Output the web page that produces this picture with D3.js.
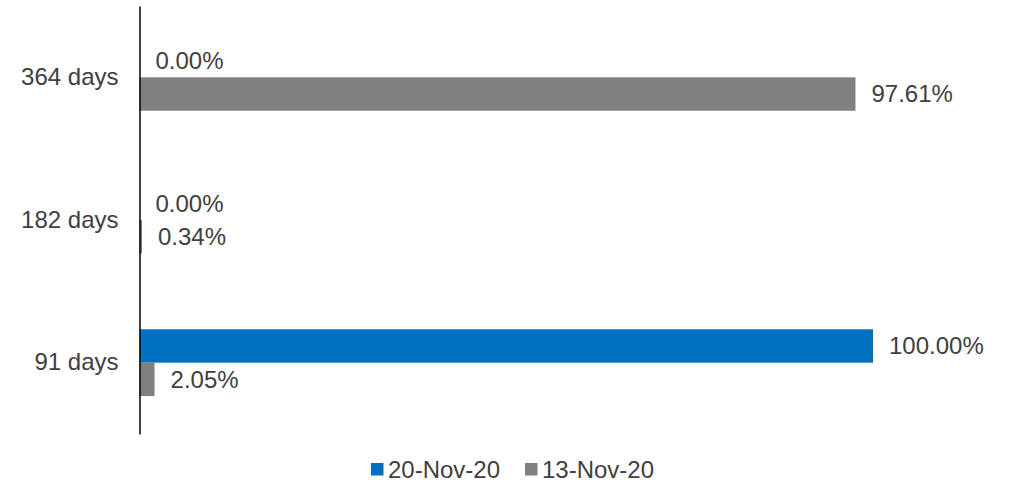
<!DOCTYPE html>
<html>
<head>
<meta charset="utf-8">
<script src="https://cdn.jsdelivr.net/npm/d3@7"></script>
<style>
  html, body { margin: 0; padding: 0; background: #fff; }
  svg { display: block; font-family: "Liberation Sans", Arial, sans-serif; }
</style>
</head>
<body>
<svg id="chart" width="1009" height="482"></svg>
<script>
// Tenors (top to bottom) and the two auction dates
const categories = ["364 days", "182 days", "91 days"];
const seriesNames = ["20-Nov-20", "13-Nov-20"];
// Share of accepted bids by tenor, in percent
const nov20Values = [0.00, 0.00, 100.00];
const nov13Values = [97.61, 0.34, 2.05];
const seriesColors = ["#0070C0", "#808080"];

const seriesValues = [nov20Values, nov13Values];
const rows = categories.map((c, i) => ({
  cat: c,
  vals: seriesNames.map((s, j) => ({ series: s, idx: j, value: seriesValues[j][i] }))
}));

const svg = d3.select("#chart");
const textColor = "#404040";
const fontSize = 24;

const x = d3.scaleLinear().domain([0, 100]).range([139.5, 873]);
const y0 = d3.scaleBand().domain(categories).range([6, 434]).paddingInner(0).paddingOuter(0);
const barH = 33.4;
const step = y0.step();
const y1 = d3.scaleBand().domain(seriesNames)
  .range([(step - 2 * barH) / 2, (step + 2 * barH) / 2]).padding(0);

const groups = svg.selectAll("g.cat").data(rows).join("g")
  .attr("class", "cat")
  .attr("transform", d => `translate(0,${y0(d.cat)})`);

groups.selectAll("rect").data(d => d.vals).join("rect")
  .attr("x", x(0))
  .attr("y", d => y1(d.series))
  .attr("height", y1.bandwidth())
  .attr("width", d => x(d.value) - x(0))
  .attr("fill", d => seriesColors[d.idx]);

groups.selectAll("text.val").data(d => d.vals).join("text")
  .attr("class", "val")
  .attr("x", d => x(d.value) + 16)
  .attr("y", d => y1(d.series) + y1.bandwidth() / 2)
  .attr("dy", "0.35em")
  .attr("fill", textColor)
  .attr("font-size", fontSize)
  .text(d => d.value.toFixed(2) + "%");

// Category axis
const yAxis = d3.axisLeft(y0).tickSize(0).tickPadding(21);
const ax = svg.append("g").attr("transform", `translate(${x(0)},0)`).call(yAxis);
ax.select(".domain").attr("stroke", "#000").attr("stroke-width", 1.5);
ax.selectAll("text").attr("font-size", fontSize).attr("fill", textColor)
  .attr("font-family", "Liberation Sans, Arial, sans-serif");

// Legend
const legend = svg.append("g");
const items = [
  { name: seriesNames[0], color: seriesColors[0], x: 371 },
  { name: seriesNames[1], color: seriesColors[1], x: 525 }
];
const li = legend.selectAll("g").data(items).join("g")
  .attr("transform", d => `translate(${d.x},463)`);
li.append("rect").attr("width", 12.5).attr("height", 12.5).attr("fill", d => d.color);
li.append("text").attr("x", 17).attr("y", 6.5).attr("dy", "0.35em")
  .attr("font-size", fontSize).attr("fill", textColor).text(d => d.name);
</script>
</body>
</html>
